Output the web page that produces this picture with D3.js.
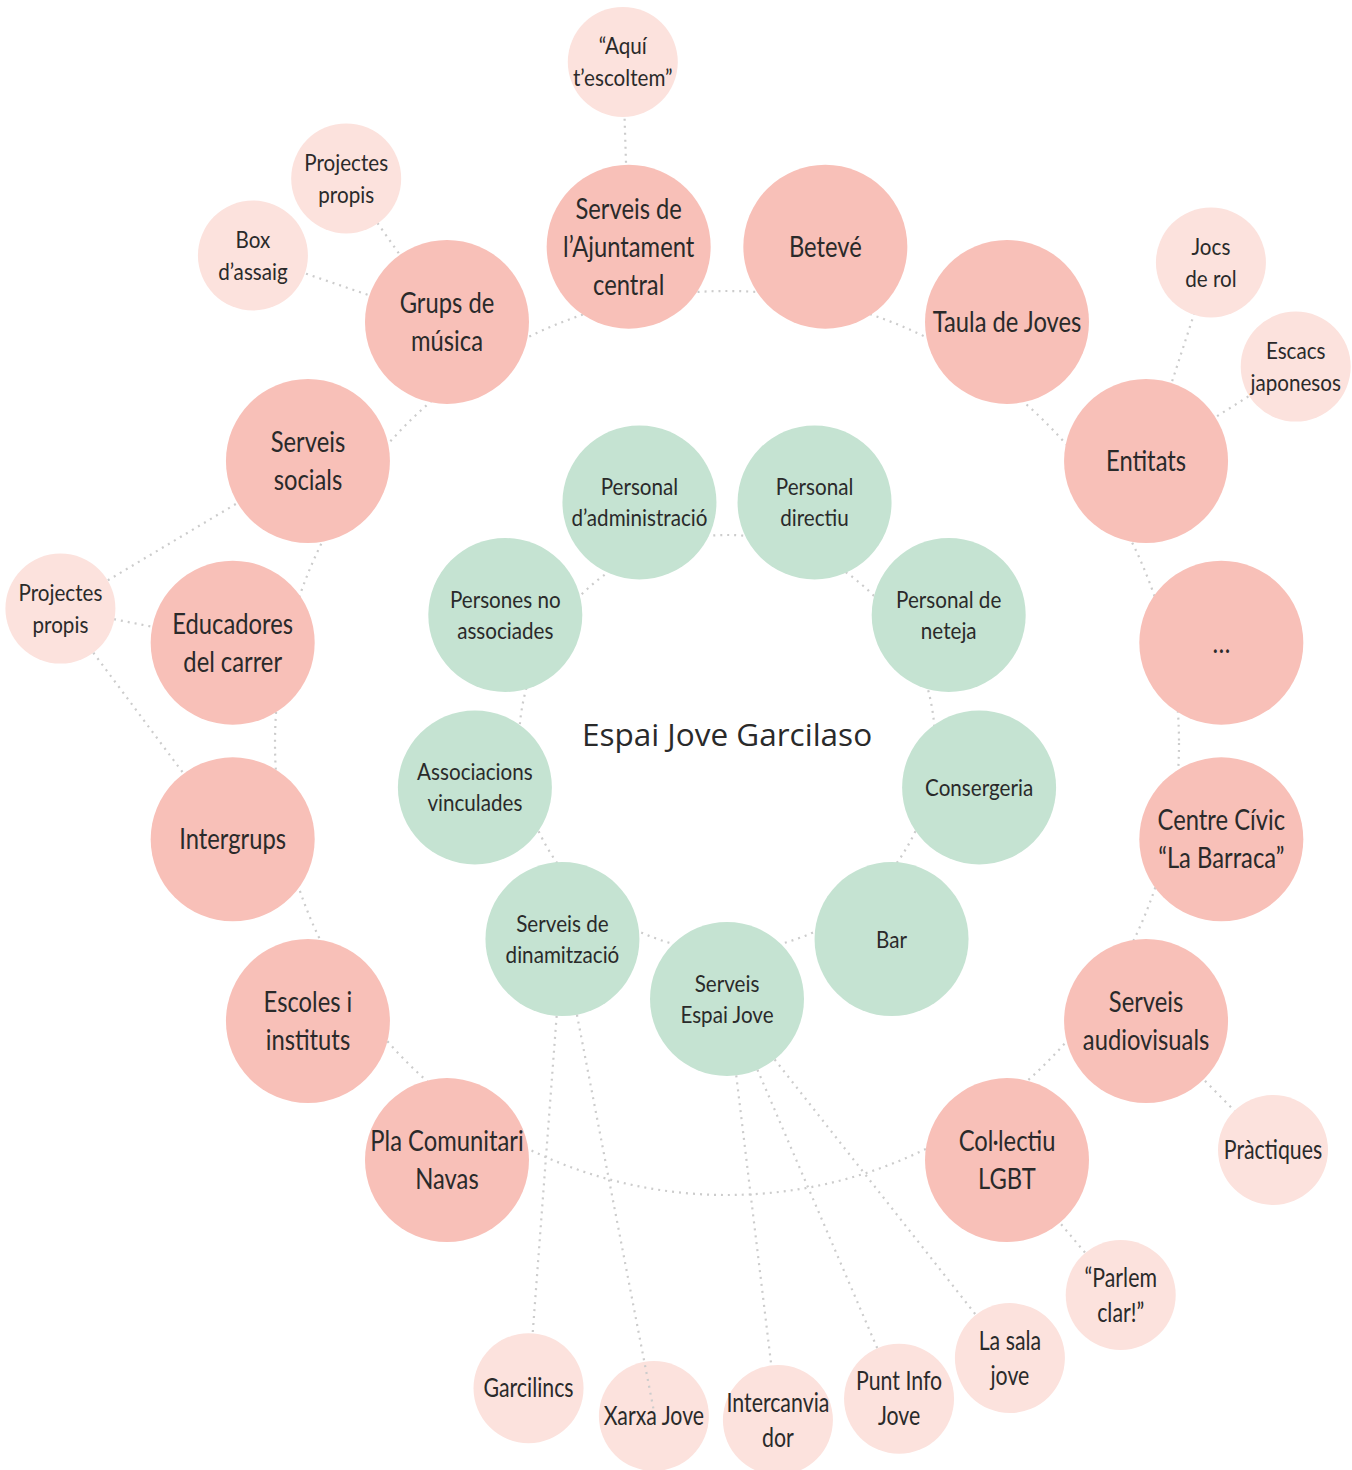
<!DOCTYPE html>
<html>
<head>
<meta charset="utf-8">
<script src="https://cdn.jsdelivr.net/npm/d3@7"></script>
<style>
  body { margin: 0; background: #fff; }
</style>
</head>
<body>
<div id="chart"></div>
<script>
// ---- data ----
const centreLabel = 'Espai Jove Garcilaso'

// inner ring, clockwise starting just right of the top
const innerRing = [
  'Personal|directiu',
  'Personal de|neteja',
  'Consergeria',
  'Bar',
  'Serveis|Espai Jove',
  'Serveis de|dinamització',
  'Associacions|vinculades',
  'Persones no|associades',
  'Personal|d’administració'
]

// outer ring, clockwise starting just right of the top
const outerRing = [
  'Betevé',
  'Taula de Joves',
  'Entitats',
  '…',
  'Centre Cívic|“La Barraca”',
  'Serveis|audiovisuals',
  'Col·lectiu|LGBT',
  'Pla Comunitari|Navas',
  'Escoles i|instituts',
  'Intergrups',
  'Educadores|del carrer',
  'Serveis|socials',
  'Grups de|música',
  'Serveis de|l’Ajuntament|central'
]

const satelliteLabels = [
  '“Aquí|t’escoltem”',
  'Projectes|propis',
  'Box|d’assaig',
  'Jocs|de rol',
  'Escacs|japonesos',
  'Projectes|propis',
  'Pràctiques',
  '“Parlem|clar!”',
  'La sala|jove',
  'Punt Info|Jove',
  'Intercanvia|dor',
  'Xarxa Jove',
  'Garcilincs'
]

const satelliteParents = [
  ['Serveis de l’Ajuntament central'],
  ['Grups de música'],
  ['Grups de música'],
  ['Entitats'],
  ['Entitats'],
  ['Serveis socials', 'Educadores del carrer', 'Intergrups'],
  ['Serveis audiovisuals'],
  ['Col·lectiu LGBT'],
  ['Serveis Espai Jove'],
  ['Serveis Espai Jove'],
  ['Serveis Espai Jove'],
  ['Serveis de dinamització'],
  ['Serveis de dinamització']
]

// ---- layout ----
const width = 1352
const height = 1470
const cx = 727
const cy = 743

const innerRadius = 256
const innerLinkRadius = 208
const outerCy = 741
const outerRadius = 504
const outerLinkRadius = 452

// angle (degrees, clockwise from top) and distance from the centre of each satellite
const satAngles = [351.3, 326, 315.8, 45.2, 56.5, 281.4, 126.7, 144.5, 155.3, 165.3, 175.7, 186.2, 197.1]
const satDistances = [689, 681, 680, 682, 682, 680, 681, 678, 677, 678, 679, 677, 675]
// satellites whose link is drawn over their own circle
const linkOnTop = ['Xarxa Jove']

const style = {
  inner: { r: 77, fill: '#c5e3d2', size: 24, lh: 31, sx: 0.86 },
  outer: { r: 82, fill: '#f8c0b8', size: 29, lh: 38, sx: 0.82 },
  sat: { r: 55, fill: '#fce2dd', size: 24, lh: 32, sx: 0.86 },
  satBig: { r: 55, fill: '#fce2dd', size: 26, lh: 35, sx: 0.82 }
}

const deg = d3.scaleLinear().domain([0, 360]).range([0, 2 * Math.PI])
const innerAngle = d3.scaleLinear().domain([0, innerRing.length]).range([20, 380])
const outerAngle = d3.scaleLinear().domain([0, 16]).range([11.25, 371.25])

const key = label => label.replace(/\|/g, ' ')
const place = (angle, radius, y0 = cy) => {
  const p = d3.pointRadial(deg(angle), radius)
  return [cx + p[0], y0 + p[1]]
}

const nodes = []
innerRing.forEach((label, i) => {
  const [x, y] = place(innerAngle(i), innerRadius)
  nodes.push({ label, key: key(label), x, y, kind: 'inner' })
})
outerRing.forEach((label, i) => {
  const slot = i < 7 ? i : i + 2 // two empty slots at the bottom
  const [x, y] = place(outerAngle(slot), outerRadius, outerCy)
  nodes.push({ label, key: key(label), x, y, kind: 'outer' })
})
const satNodes = satelliteLabels.map((label, i) => {
  const [x, y] = place(satAngles[i], satDistances[i])
  return { label, key: key(label), x, y, kind: i >= 6 ? 'satBig' : 'sat' }
})
nodes.push(...satNodes)

const byKey = {}
nodes.filter(d => d.kind === 'inner' || d.kind === 'outer').forEach(d => { byKey[d.key] = d })

const links = []
satNodes.forEach((target, i) => {
  satelliteParents[i].forEach(p => {
    links.push({ source: byKey[p], target, top: linkOnTop.includes(target.key) })
  })
})

// ---- draw ----
const svg = d3
  .select('#chart')
  .append('svg')
  .attr('width', width)
  .attr('height', height)

const dotted = sel =>
  sel
    .attr('fill', 'none')
    .attr('stroke', '#cccccc')
    .attr('stroke-width', 2.2)
    .attr('stroke-dasharray', '2 5')

svg.append('circle').attr('cx', cx).attr('cy', cy).attr('r', innerLinkRadius).call(dotted)
svg.append('circle').attr('cx', cx).attr('cy', cy).attr('r', outerLinkRadius).call(dotted)

svg
  .append('g')
  .selectAll('line')
  .data(links.filter(d => !d.top))
  .enter()
  .append('line')
  .attr('x1', d => d.source.x)
  .attr('y1', d => d.source.y)
  .attr('x2', d => d.target.x)
  .attr('y2', d => d.target.y)
  .call(dotted)

svg
  .append('g')
  .selectAll('circle')
  .data(nodes)
  .enter()
  .append('circle')
  .attr('cx', d => d.x)
  .attr('cy', d => d.y)
  .attr('r', d => style[d.kind].r)
  .attr('fill', d => style[d.kind].fill)

// links that sit on top of the satellite circle start at the parent's edge
const edge = d => {
  const a = Math.atan2(d.target.y - d.source.y, d.target.x - d.source.x)
  const r = style[d.source.kind].r
  return [d.source.x + Math.cos(a) * r, d.source.y + Math.sin(a) * r]
}
svg
  .append('g')
  .selectAll('line')
  .data(links.filter(d => d.top))
  .enter()
  .append('line')
  .attr('x1', d => edge(d)[0])
  .attr('y1', d => edge(d)[1])
  .attr('x2', d => d.target.x)
  .attr('y2', d => d.target.y - 5)
  .call(dotted)

const labels = svg
  .append('g')
  .selectAll('text')
  .data(nodes)
  .enter()
  .append('text')
  .attr('transform', d => 'translate(' + d.x + ',' + d.y + ') scale(' + style[d.kind].sx + ',1)')
  .attr('text-anchor', 'middle')
  .attr('font-family', 'Lato, sans-serif')
  .attr('font-size', d => style[d.kind].size)
  .attr('fill', '#2a2a2a')

labels
  .selectAll('tspan')
  .data(d => {
    const lines = d.label.split('|')
    const lh = style[d.kind].lh
    return lines.map((t, i) => ({ t, y: (i - (lines.length - 1) / 2) * lh }))
  })
  .enter()
  .append('tspan')
  .attr('x', 0)
  .attr('y', d => d.y)
  .attr('dy', '0.35em')
  .text(d => d.t)

svg
  .append('text')
  .text(centreLabel)
  .attr('x', cx)
  .attr('y', cy - 8)
  .attr('dy', '0.35em')
  .attr('text-anchor', 'middle')
  .attr('font-family', '"Open Sans", sans-serif')
  .attr('font-size', 31.5)
  .attr('fill', '#2a2a2a')
</script>
</body>
</html>
